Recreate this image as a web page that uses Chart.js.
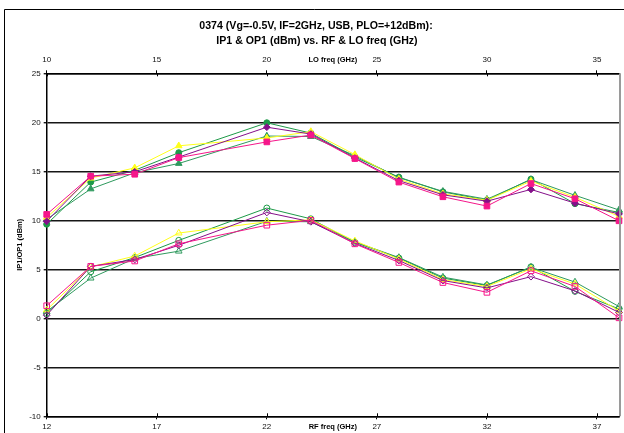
<!DOCTYPE html>
<html>
<head>
<meta charset="utf-8">
<script src="https://cdn.jsdelivr.net/npm/chart.js@4.4.1/dist/chart.umd.min.js"></script>
<style>
  html, body { margin: 0; padding: 0; background: #fff; }
  canvas { display: block; }
</style>
</head>
<body>
<canvas id="chart" width="624" height="433"></canvas>
<script>
// RF frequencies measured (GHz); LO = RF - IF
const rfFreq = [12, 14, 16, 18, 22, 24, 26, 28, 30, 32, 34, 36, 38];
const ifFreq = 2;

// Input P1dB (dBm), one array per device/bias trace
const ip1Yellow = [10.3, 14.3, 15.35, 17.6, 18.4, 19.05, 16.7, 14.2, 12.7, 12.05, 14.0, 12.35, 10.4];
const ip1Pink   = [10.6, 14.5, 14.7, 16.4, 18.0, 18.7, 16.3, 13.9, 12.4, 11.45, 13.75, 12.2, 9.95];
const ip1Purple = [9.9, 14.5, 14.95, 16.45, 19.5, 18.8, 16.35, 14.05, 12.6, 11.95, 13.15, 11.75, 10.65];
const ip1GreenC = [9.6, 13.9, 15.1, 16.9, 19.95, 18.9, 16.45, 14.4, 12.9, 12.05, 14.2, 11.7, 10.8];
const ip1GreenT = [10.1, 13.2, 14.85, 15.8, 18.6, 18.55, 16.6, 14.35, 12.95, 12.15, 14.15, 12.55, 11.05];

// Output P1dB (dBm)
const op1Yellow = [0.85, 5.25, 6.35, 8.7, 9.85, 10.05, 7.9, 6.05, 3.95, 3.25, 5.05, 3.5, 0.75];
const op1Pink   = [1.28, 5.3, 5.85, 7.6, 9.5, 10.0, 7.6, 5.7, 3.65, 2.65, 4.85, 3.25, 0.05];
const op1Purple = [0.32, 5.3, 6.0, 7.45, 10.8, 9.85, 7.65, 5.9, 3.85, 3.1, 4.25, 2.8, 0.6];
const op1GreenC = [0.5, 4.75, 6.2, 7.95, 11.25, 10.15, 7.75, 6.15, 4.1, 3.35, 5.25, 2.75, 0.95];
const op1GreenT = [0.7, 4.1, 6.1, 6.85, 9.9, 9.85, 7.8, 6.2, 4.2, 3.4, 5.2, 3.7, 1.2];

// Axis tick labels
const rfTicks = [12, 17, 22, 27, 32, 37];
const loTicks = [10, 15, 20, 25, 30, 35];
const yTicks = [-10, -5, 0, 5, 10, 15, 20, 25];

const titleLines = ['0374 (Vg=-0.5V, IF=2GHz, USB, PLO=+12dBm):', 'IP1 & OP1 (dBm) vs. RF & LO freq (GHz)'];

const FONT = '"Liberation Sans", Arial, sans-serif';
const C = {
  yellow: '#ffff1a',
  pink: '#f5168a',
  purple: '#85108a',
  greenC: '#1d9a48',
  greenT: '#2f9a5e'
};

const toPts = vals => rfFreq.map((f, i) => ({ x: f, y: vals[i] }));

function series(label, vals, color, style, radius, hollow) {
  return {
    label,
    data: toPts(vals),
    xAxisID: 'x',
    yAxisID: 'y',
    showLine: true,
    borderColor: color,
    borderWidth: 1,
    backgroundColor: color,
    pointStyle: style,
    pointRadius: radius,
    pointBorderWidth: 1,
    pointBorderColor: color,
    pointBackgroundColor: hollow ? 'rgba(255,255,255,0)' : color,
    fill: false,
    clip: false,
    tension: 0
  };
}

const datasets = [
  series('OP1 pink', op1Pink, C.pink, 'rect', 4, true),
  series('OP1 purple', op1Purple, C.purple, 'rectRot', 3.4, true),
  series('OP1 yellow', op1Yellow, C.yellow, 'triangle', 3.8, true),
  series('OP1 green tri', op1GreenT, C.greenT, 'triangle', 3.8, true),
  series('OP1 green circ', op1GreenC, C.greenC, 'circle', 3, true),
  series('IP1 pink', ip1Pink, C.pink, 'rect', 4, false),
  series('IP1 purple', ip1Purple, C.purple, 'rectRot', 3.4, false),
  series('IP1 yellow', ip1Yellow, C.yellow, 'triangle', 3.8, false),
  series('IP1 green tri', ip1GreenT, C.greenT, 'triangle', 3.8, false),
  series('IP1 green circ', ip1GreenC, C.greenC, 'circle', 3, false)
];

// Frame, titles, right plot edge and crossing tick marks
const decorations = {
  id: 'decorations',
  beforeDraw(chart) {
    const ctx = chart.ctx;
    ctx.save();
    ctx.fillStyle = '#fff';
    ctx.fillRect(0, 0, chart.width, chart.height);
    ctx.strokeStyle = '#000';
    ctx.lineWidth = 1;
    ctx.beginPath();
    ctx.moveTo(4.5, chart.height);
    ctx.lineTo(4.5, 9.5);
    ctx.lineTo(chart.width, 9.5);
    ctx.stroke();
    ctx.restore();
  },
  afterDraw(chart) {
    const ctx = chart.ctx;
    const a = chart.chartArea;
    const cx = (a.left + a.right) / 2;
    ctx.save();
    // right edge of plot area
    ctx.strokeStyle = '#9a9a9a';
    ctx.lineWidth = 2;
    ctx.beginPath();
    ctx.moveTo(a.right + 1, a.top);
    ctx.lineTo(a.right + 1, a.bottom);
    ctx.stroke();

    // inner halves of the crossing tick marks
    ctx.strokeStyle = '#000';
    ctx.lineWidth = 1;
    const xs = chart.scales.x, xl = chart.scales.xLO;
    ctx.beginPath();
    rfTicks.forEach(v => {
      const px = Math.round(xs.getPixelForValue(v)) + 0.5;
      ctx.moveTo(px, a.bottom);
      ctx.lineTo(px, a.bottom - 3);
    });
    loTicks.forEach(v => {
      const px = Math.round(xl.getPixelForValue(v)) + 0.5;
      ctx.moveTo(px, a.top);
      ctx.lineTo(px, a.top + 3);
    });
    ctx.stroke();

    // chart title
    ctx.fillStyle = '#000';
    ctx.textAlign = 'center';
    ctx.textBaseline = 'middle';
    ctx.font = 'bold 10.6px ' + FONT;
    ctx.fillText(titleLines[0], 316, 26);
    ctx.fillText(titleLines[1], 317, 41);

    // axis titles
    ctx.font = 'bold 7.5px ' + FONT;
    ctx.fillText('LO freq (GHz)', cx, 60);
    ctx.fillText('RF freq (GHz)', cx, 427);
    ctx.translate(20, (a.top + a.bottom) / 2);
    ctx.rotate(-Math.PI / 2);
    ctx.fillText('IP1/OP1 (dBm)', 0, 0);
    ctx.restore();
  }
};

const tickFont = { family: FONT, size: 8 };

new Chart(document.getElementById('chart'), {
  type: 'scatter',
  data: { datasets },
  plugins: [decorations],
  options: {
    responsive: false,
    animation: false,
    events: [],
    layout: { padding: { left: 0, right: 2.7, top: 0, bottom: 0 } },
    plugins: { legend: { display: false }, tooltip: { enabled: false }, title: { display: false } },
    scales: {
      x: {
        type: 'linear',
        position: 'bottom',
        min: 12,
        max: 38,
        afterBuildTicks: s => { s.ticks = rfTicks.map(v => ({ value: v })); },
        afterFit: s => { s.height = 16.7; },
        ticks: { font: tickFont, color: '#111', padding: 3, maxRotation: 0, autoSkip: false },
        grid: { drawOnChartArea: false, drawTicks: true, tickLength: 3, color: '#000', lineWidth: 1 },
        border: { display: true, color: '#000', width: 1.5 }
      },
      xLO: {
        type: 'linear',
        position: 'top',
        min: 10,
        max: 36,
        afterBuildTicks: s => { s.ticks = loTicks.map(v => ({ value: v })); },
        afterFit: s => { s.height = 73.3; },
        ticks: { font: tickFont, color: '#111', padding: 5.5, maxRotation: 0, autoSkip: false },
        grid: { drawOnChartArea: false, drawTicks: true, tickLength: 3, color: '#000', lineWidth: 1 },
        border: { display: true, color: '#000', width: 1.5 }
      },
      y: {
        type: 'linear',
        position: 'left',
        min: -10,
        max: 25,
        afterBuildTicks: s => { s.ticks = yTicks.map(v => ({ value: v })); },
        afterFit: s => { s.width = 46.7; },
        ticks: { font: tickFont, color: '#111', padding: 3 },
        grid: { color: '#161616', lineWidth: 1.4, tickLength: 3, drawTicks: true },
        border: { display: true, color: '#000', width: 1.5 }
      }
    }
  }
});
</script>
</body>
</html>
